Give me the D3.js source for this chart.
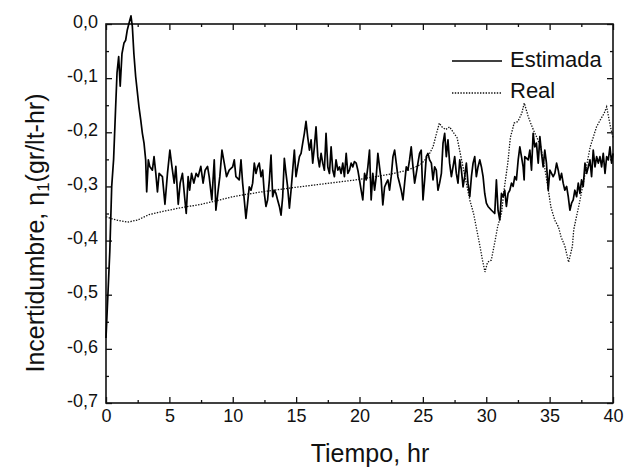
<!DOCTYPE html>
<html>
<head>
<meta charset="utf-8">
<script src="https://cdn.jsdelivr.net/npm/d3@7"></script>
<style>
  body { margin: 0; background: #fff; }
  svg { font-family: "Liberation Sans", Arial, sans-serif; }
</style>
</head>
<body>
<svg id="chart" width="631" height="471"></svg>
<script>
// Estimada (noisy estimate)
const estT = [0,0.3,0.45,0.6,0.75,0.87,1.0,1.12,1.26,1.42,1.55,1.68,1.8,1.97,2.08,2.2,2.34,2.6,2.74,2.87,3.0,3.13,3.21,
  3.34,3.45,3.66,3.79,3.93,4.06,4.19,4.45,4.65,4.85,5.04,5.2,5.38,5.51,5.7,5.85,6.03,6.2,6.33,6.48,6.6,6.75,6.93,7.11,7.27,7.48,7.66,7.82,8.01,8.14,8.35,8.54,8.67,8.85,8.98,9.15,9.33,9.51,
  9.72,9.99,10.12,10.25,10.51,10.65,10.78,10.91,11.04,11.17,11.30,11.44,11.57,11.70,11.83,11.96,12.09,12.23,12.36,12.49,12.62,12.75,12.89,13.02,13.15,13.28,13.41,13.54,13.68,13.81,13.94,14.07,14.2,14.33,14.47,14.6,14.73,14.86,14.99,15.12,15.26,15.39,15.52,15.65,15.78,15.91,16.05,16.18,16.31,16.44,16.57,16.71,16.84,16.97,17.1,17.23,17.36,17.5,17.63,17.76,17.89,18.02,18.15,18.29,18.42,18.55,18.68,18.81,18.95,19.08,19.21,19.34,19.47,19.6,19.74,19.87,
  20.0,20.13,20.26,20.40,20.53,20.66,20.79,20.92,21.05,21.19,21.32,21.45,21.58,21.71,21.84,21.98,22.11,22.24,22.37,22.50,22.64,22.77,22.90,23.03,23.16,23.29,23.43,23.56,23.69,23.82,23.95,24.08,24.22,24.35,24.48,24.61,24.74,24.87,25.01,25.14,25.27,25.40,25.53,25.67,25.80,25.93,26.06,26.19,26.32,26.46,26.59,26.72,26.85,26.98,27.11,27.25,27.38,27.51,27.64,27.77,27.91,28.04,28.17,28.30,28.43,28.56,28.70,28.83,28.96,29.09,29.22,29.35,29.49,29.62,29.75,
  29.88,30.01,30.14,30.41,30.67,30.80,30.93,31.07,31.20,31.33,31.46,31.59,31.72,31.86,31.99,32.12,32.25,32.38,32.52,32.65,32.78,32.91,32.99,33.04,33.31,33.44,33.57,33.70,33.83,33.96,34.10,34.23,34.36,34.49,34.62,34.75,34.89,35.02,35.15,35.28,35.41,35.55,35.68,35.81,35.94,36.07,36.2,36.34,36.47,36.6,36.73,36.86,36.99,37.13,37.26,37.39,37.52,37.65,37.79,37.92,38.05,38.18,38.31,38.44,38.58,38.71,38.84,38.97,39.1,39.23,39.37,39.5,39.63,39.76,39.89,40.0];
const estV = [-0.58,-0.42,-0.30,-0.25,-0.16,-0.09,-0.06,-0.115,-0.055,-0.035,-0.03,-0.011,0.0,0.015,-0.005,-0.055,-0.097,-0.153,-0.177,-0.202,-0.22,-0.251,-0.31,
  -0.251,-0.263,-0.27,-0.245,-0.276,-0.31,-0.276,-0.282,-0.333,-0.276,-0.233,-0.263,-0.294,-0.263,-0.333,-0.294,-0.276,-0.319,-0.35,-0.282,-0.307,-0.276,-0.294,-0.276,-0.282,-0.263,-0.294,-0.27,-0.263,-0.282,-0.325,-0.251,-0.344,-0.307,-0.282,-0.233,-0.257,-0.282,
  -0.270,-0.264,-0.251,-0.282,-0.288,-0.251,-0.294,-0.325,-0.359,-0.331,-0.301,-0.307,-0.294,-0.257,-0.276,-0.264,-0.257,-0.282,-0.270,-0.313,-0.337,-0.325,-0.288,-0.242,-0.319,-0.307,-0.313,-0.325,-0.337,-0.353,-0.319,-0.248,-0.276,-0.301,-0.340,-0.307,-0.270,-0.233,-0.282,-0.264,-0.245,-0.239,-0.220,-0.202,-0.180,-0.208,-0.233,-0.214,-0.257,-0.227,-0.190,-0.245,-0.264,-0.239,-0.257,-0.270,-0.202,-0.264,-0.276,-0.227,-0.270,-0.282,-0.251,-0.270,-0.264,-0.276,-0.257,-0.282,-0.239,-0.276,-0.270,-0.257,-0.264,-0.254,-0.257,-0.270,
  -0.288,-0.307,-0.325,-0.276,-0.288,-0.264,-0.233,-0.325,-0.276,-0.307,-0.282,-0.239,-0.264,-0.288,-0.334,-0.301,-0.294,-0.288,-0.307,-0.282,-0.245,-0.233,-0.257,-0.282,-0.294,-0.307,-0.325,-0.294,-0.264,-0.270,-0.251,-0.227,-0.264,-0.294,-0.276,-0.257,-0.239,-0.233,-0.325,-0.288,-0.245,-0.239,-0.251,-0.257,-0.288,-0.264,-0.270,-0.307,-0.294,-0.276,-0.220,-0.202,-0.245,-0.214,-0.257,-0.282,-0.264,-0.245,-0.276,-0.294,-0.251,-0.270,-0.301,-0.282,-0.257,-0.294,-0.319,-0.282,-0.257,-0.245,-0.282,-0.264,-0.251,-0.264,-0.282,
  -0.313,-0.331,-0.337,-0.344,-0.350,-0.288,-0.344,-0.362,-0.313,-0.319,-0.307,-0.337,-0.313,-0.307,-0.294,-0.300,-0.282,-0.288,-0.251,-0.227,-0.245,-0.264,-0.288,-0.245,-0.251,-0.233,-0.270,-0.202,-0.227,-0.220,-0.257,-0.208,-0.239,-0.264,-0.233,-0.257,-0.307,-0.270,-0.276,-0.282,-0.276,-0.257,-0.270,-0.288,-0.276,-0.294,-0.307,-0.300,-0.319,-0.344,-0.331,-0.325,-0.307,-0.319,-0.294,-0.313,-0.288,-0.300,-0.257,-0.276,-0.264,-0.251,-0.282,-0.233,-0.264,-0.245,-0.257,-0.245,-0.264,-0.239,-0.276,-0.245,-0.251,-0.227,-0.257,-0.239];

// Real (dotted)
const realT = [0,0.5,1.0,1.7,2.5,3.4,4.7,6.0,7.5,8.8,10.0,12.0,14.5,17.6,19.7,21,22.5,23.8,24.8,25.4,25.8,26.1,26.3,26.5,26.8,27.1,27.4,27.7,28.0,28.4,28.7,29.0,29.2,29.5,29.7,29.9,30.1,30.4,30.7,30.9,31.2,31.4,31.7,31.9,32.2,32.5,32.8,33.0,33.3,33.5,33.8,34.0,34.3,34.6,34.9,35.1,35.4,35.7,35.9,36.2,36.5,36.8,36.9,37.4,37.9,38.2,38.7,39.0,39.3,39.5,39.8,40];
const realV = [-0.356,-0.36,-0.363,-0.366,-0.362,-0.352,-0.345,-0.339,-0.333,-0.326,-0.319,-0.311,-0.303,-0.294,-0.288,-0.283,-0.277,-0.27,-0.26,-0.245,-0.227,-0.2,-0.183,-0.19,-0.195,-0.19,-0.2,-0.21,-0.245,-0.29,-0.325,-0.35,-0.374,-0.41,-0.436,-0.458,-0.44,-0.436,-0.4,-0.374,-0.35,-0.307,-0.257,-0.21,-0.183,-0.18,-0.165,-0.146,-0.17,-0.183,-0.2,-0.21,-0.227,-0.264,-0.307,-0.338,-0.362,-0.375,-0.393,-0.41,-0.44,-0.41,-0.38,-0.325,-0.264,-0.227,-0.19,-0.177,-0.165,-0.153,-0.19,-0.21];

const xTicks = [0, 5, 10, 15, 20, 25, 30, 35, 40];
const xMinor = [2.5, 7.5, 12.5, 17.5, 22.5, 27.5, 32.5, 37.5];
const yTicks = [0, -0.1, -0.2, -0.3, -0.4, -0.5, -0.6, -0.7];
const yMinor = [-0.05, -0.15, -0.25, -0.35, -0.45, -0.55, -0.65];
const seriesNames = ['Estimada', 'Real'];

const svg = d3.select('#chart');
const mLeft = 106, mRight = 613, mTop = 24, mBottom = 403;

const x = d3.scaleLinear([0, 40], [mLeft, mRight]);
const y = d3.scaleLinear([-0.7, 0], [mBottom, mTop]);

const fmt = d => d3.format('.1f')(d).replace('.', ',').replace('\u2212', '-');

// axes with inward ticks
svg.append('g').attr('transform', `translate(0,${mBottom})`)
  .call(d3.axisBottom(x).tickValues(xTicks).tickFormat(d => d).tickSizeInner(-6).tickSizeOuter(0).tickPadding(6));
svg.append('g').attr('transform', `translate(0,${mBottom})`)
  .call(d3.axisBottom(x).tickValues(xMinor).tickFormat('').tickSizeInner(-3).tickSizeOuter(0));
svg.append('g').attr('transform', `translate(0,${mTop})`)
  .call(d3.axisTop(x).tickValues(xTicks).tickFormat('').tickSizeInner(-6).tickSizeOuter(0));
svg.append('g').attr('transform', `translate(0,${mTop})`)
  .call(d3.axisTop(x).tickValues(xMinor).tickFormat('').tickSizeInner(-3).tickSizeOuter(0));

svg.append('g').attr('transform', `translate(${mLeft},0)`)
  .call(d3.axisLeft(y).tickValues(yTicks).tickFormat(fmt).tickSizeInner(-6).tickSizeOuter(0).tickPadding(8));
svg.append('g').attr('transform', `translate(${mLeft},0)`)
  .call(d3.axisLeft(y).tickValues(yMinor).tickFormat('').tickSizeInner(-3).tickSizeOuter(0));
svg.append('g').attr('transform', `translate(${mRight},0)`)
  .call(d3.axisRight(y).tickValues(yTicks).tickFormat('').tickSizeInner(-6).tickSizeOuter(0));
svg.append('g').attr('transform', `translate(${mRight},0)`)
  .call(d3.axisRight(y).tickValues(yMinor).tickFormat('').tickSizeInner(-3).tickSizeOuter(0));

svg.selectAll('.domain').remove();
svg.selectAll('.tick line').attr('stroke', '#111').attr('stroke-width', 1.3);
svg.selectAll('.tick text').attr('font-size', 18).attr('fill', '#111')
  .attr('font-family', '"Liberation Sans", Arial, sans-serif');
svg.selectAll('.tick text').filter(function () { return this.getAttribute('dy') === '0.32em'; })
  .attr('dy', '0.18em');

// frame
svg.append('rect').attr('x', mLeft).attr('y', mTop).attr('width', mRight - mLeft).attr('height', mBottom - mTop)
  .attr('fill', 'none').attr('stroke', '#111').attr('stroke-width', 1.6);

// lines
const line = d3.line().x(d => x(d[0])).y(d => y(d[1]));
const realData = realT.map((t, i) => [t, realV[i]]);
const estData = estT.map((t, i) => [t, estV[i]]);

svg.append('path').datum(realData).attr('d', line)
  .attr('fill', 'none').attr('stroke', '#111').attr('stroke-width', 1.3).attr('stroke-dasharray', '1.4,1.4');
svg.append('path').datum(estData).attr('d', line)
  .attr('fill', 'none').attr('stroke', '#000').attr('stroke-width', 1.7).attr('stroke-linejoin', 'round');

// legend
const lg = svg.append('g');
lg.append('line').attr('x1', 452).attr('x2', 502).attr('y1', 61).attr('y2', 61)
  .attr('stroke', '#000').attr('stroke-width', 1.5);
lg.append('text').attr('x', 510).attr('y', 67).attr('font-size', 22).attr('fill', '#111').text(seriesNames[0]);
lg.append('line').attr('x1', 452).attr('x2', 502).attr('y1', 93).attr('y2', 93)
  .attr('stroke', '#111').attr('stroke-width', 1.3).attr('stroke-dasharray', '1.4,1.4');
lg.append('text').attr('x', 510).attr('y', 98).attr('font-size', 22).attr('fill', '#111').text(seriesNames[1]);

// axis titles
svg.append('text').attr('x', 370).attr('y', 462).attr('text-anchor', 'middle')
  .attr('font-size', 25).attr('fill', '#111').text('Tiempo, hr');

const yl = svg.append('text').attr('transform', 'translate(44,233) rotate(-90)')
  .attr('text-anchor', 'middle').attr('font-size', 25).attr('fill', '#111');
yl.append('tspan').text('Incertidumbre, η');
yl.append('tspan').attr('font-size', 17).attr('dy', 5).text('1');
yl.append('tspan').attr('dy', -5).text('(gr/lt-hr)');
</script>
</body>
</html>
